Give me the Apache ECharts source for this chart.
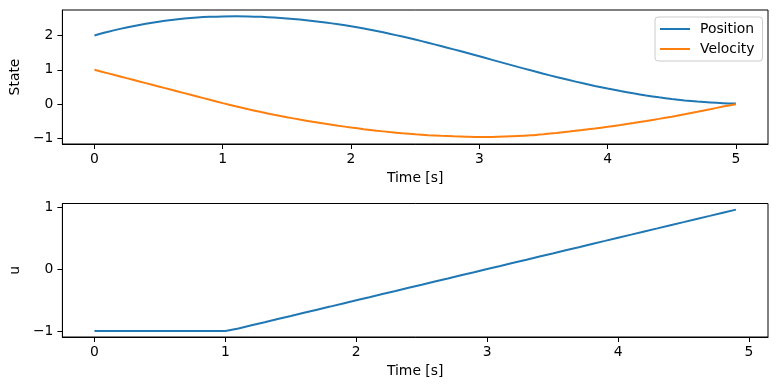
<!DOCTYPE html>
<html>
<head>
<meta charset="utf-8">
<script src="https://cdn.jsdelivr.net/npm/echarts@6/dist/echarts.min.js"></script>
<style>html,body{margin:0;padding:0;background:#fff}#c{width:776px;height:390px}</style>
</head>
<body>
<div id="c"></div>
<script>
const stateTime = [0.0,0.1,0.2,0.3,0.4,0.5,0.6,0.7,0.8,0.9,1.0,1.1,1.2,1.3,1.4,1.5,1.6,1.7,1.8,1.9,2.0,2.1,2.2,2.3,2.4,2.5,2.6,2.7,2.8,2.9,3.0,3.1,3.2,3.3,3.4,3.5,3.6,3.7,3.8,3.9,4.0,4.1,4.2,4.3,4.4,4.5,4.6,4.7,4.8,4.9,5.0];
const position = [2.000,2.100,2.190,2.270,2.340,2.400,2.450,2.490,2.520,2.540,2.552,2.556,2.552,2.540,2.521,2.495,2.462,2.422,2.376,2.324,2.266,2.200,2.128,2.050,1.967,1.879,1.787,1.692,1.594,1.494,1.392,1.289,1.186,1.084,0.984,0.886,0.791,0.700,0.613,0.531,0.454,0.381,0.314,0.253,0.198,0.150,0.109,0.075,0.048,0.029,0.018];
const velocity = [1.000,0.903,0.806,0.709,0.612,0.515,0.418,0.321,0.224,0.127,0.030,-0.062,-0.149,-0.231,-0.308,-0.380,-0.448,-0.512,-0.572,-0.628,-0.680,-0.728,-0.772,-0.812,-0.847,-0.877,-0.902,-0.922,-0.937,-0.947,-0.953,-0.953,-0.945,-0.929,-0.905,-0.873,-0.837,-0.797,-0.754,-0.708,-0.659,-0.606,-0.550,-0.491,-0.429,-0.364,-0.295,-0.223,-0.148,-0.070,0.000];
const controlTime = [0.0,0.1,0.2,0.3,0.4,0.5,0.6,0.7,0.8,0.9,1.0,1.1,1.2,1.3,1.4,1.5,1.6,1.7,1.8,1.9,2.0,2.1,2.2,2.3,2.4,2.5,2.6,2.7,2.8,2.9,3.0,3.1,3.2,3.3,3.4,3.5,3.6,3.7,3.8,3.9,4.0,4.1,4.2,4.3,4.4,4.5,4.6,4.7,4.8,4.9];
const control = [-1,-1,-1,-1,-1,-1,-1,-1,-1,-1,-1,-0.960,-0.909,-0.859,-0.808,-0.758,-0.707,-0.657,-0.607,-0.556,-0.505,-0.455,-0.404,-0.354,-0.303,-0.253,-0.202,-0.152,-0.101,-0.051,0.000,0.050,0.101,0.151,0.202,0.252,0.303,0.353,0.404,0.454,0.505,0.555,0.606,0.656,0.707,0.757,0.808,0.858,0.909,0.959];
const timeTicks = [0,1,2,3,4,5];
const stateTicks = [-1,0,1,2];
const controlTicks = [-1,0,1];
const seriesNames = ['Position','Velocity','u'];
const xLabel = 'Time [s]';
const stateLabel = 'State';
const controlLabel = 'u';

const FONT = 'DejaVu Sans';
const FS = 13.9;
const fmt = v => (v < 0 ? '\u2212' + Math.abs(v) : String(v));
const pair = (xs, ys) => xs.map((x, i) => [x, ys[i]]);

function xAxis(gridIndex, min, max) {
  return {
    type: 'value', gridIndex, min, max,
    axisLine: {show: true, onZero: false, lineStyle: {color: '#000', width: 1}},
    axisTick: {show: true, length: 5, lineStyle: {color: '#000'}, customValues: timeTicks},
    axisLabel: {color: '#000', fontFamily: FONT, fontSize: FS, margin: 8, customValues: timeTicks, formatter: fmt},
    splitLine: {show: false},
    name: xLabel, nameLocation: 'middle', nameGap: 27,
    nameTextStyle: {color: '#000', fontFamily: FONT, fontSize: FS}
  };
}
function yAxis(gridIndex, min, max, ticks, name) {
  return {
    type: 'value', gridIndex, min, max,
    axisLine: {show: true, onZero: false, lineStyle: {color: '#000', width: 1}},
    axisTick: {show: true, length: 5, lineStyle: {color: '#000'}, customValues: ticks},
    axisLabel: {color: '#000', fontFamily: FONT, fontSize: FS, margin: 9, customValues: ticks, formatter: fmt},
    splitLine: {show: false},
    name, nameLocation: 'middle', nameGap: 36, nameRotate: 90,
    nameTextStyle: {color: '#000', fontFamily: FONT, fontSize: FS}
  };
}

const chart = echarts.init(document.getElementById('c'), null, {renderer: 'canvas'});
chart.setOption({
  animation: false,
  backgroundColor: '#fff',
  grid: [
    {left: 59, top: 10, width: 709, height: 134, show: true, borderColor: '#000', borderWidth: 1, backgroundColor: 'transparent'},
    {left: 59, top: 203.5, width: 709, height: 133.5, show: true, borderColor: '#000', borderWidth: 1, backgroundColor: 'transparent'}
  ],
  xAxis: [xAxis(0, -0.25, 5.25), xAxis(1, -0.245, 5.145)],
  yAxis: [yAxis(0, -1.16, 2.74, stateTicks, stateLabel), yAxis(1, -1.098, 1.058, controlTicks, controlLabel)],
  legend: {
    data: [seriesNames[0], seriesNames[1]],
    orient: 'vertical', left: 655, top: 17,
    icon: 'rect', itemWidth: 30, itemHeight: 2, itemGap: 6,
    padding: [5, 8, 5, 5],
    backgroundColor: 'rgba(255,255,255,0.8)', borderColor: '#cccccc', borderWidth: 1, borderRadius: 3,
    textStyle: {color: '#000', fontFamily: FONT, fontSize: FS, padding: [0, 0, 0, 5]}
  },
  series: [
    {name: seriesNames[0], type: 'line', xAxisIndex: 0, yAxisIndex: 0, data: pair(stateTime, position), symbol: 'none', smooth: 0.3, lineStyle: {color: '#1f77b4', width: 2}, itemStyle: {color: '#1f77b4'}},
    {name: seriesNames[1], type: 'line', xAxisIndex: 0, yAxisIndex: 0, data: pair(stateTime, velocity), symbol: 'none', smooth: 0.3, lineStyle: {color: '#ff7f0e', width: 2}, itemStyle: {color: '#ff7f0e'}},
    {name: seriesNames[2], type: 'line', xAxisIndex: 1, yAxisIndex: 1, data: pair(controlTime, control), symbol: 'none', smooth: false, lineStyle: {color: '#1f77b4', width: 2}, itemStyle: {color: '#1f77b4'}}
  ]
});
</script>
</body>
</html>
